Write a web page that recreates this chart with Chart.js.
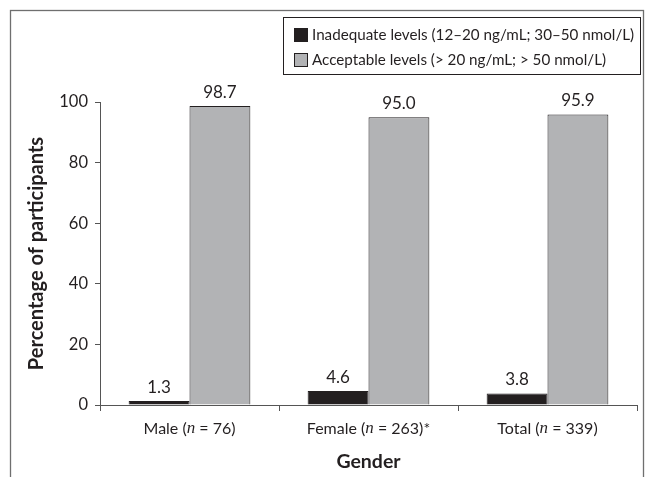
<!DOCTYPE html>
<html>
<head>
<meta charset="utf-8">
<script src="https://cdn.jsdelivr.net/npm/chart.js@4.4.1/dist/chart.umd.min.js"></script>
<style>
  html, body { margin: 0; padding: 0; background: #fff; }
  #wrap { width: 655px; height: 477px; }
</style>
</head>
<body>
<div id="wrap"><canvas id="grafica" width="655" height="477"></canvas></div>
<script>
const categories = ["Male (n = 76)", "Female (n = 263)*", "Total (n = 339)"];
const inadequate = [1.3, 4.6, 3.8];
const acceptable = [98.7, 95.0, 95.9];
const seriesLabels = [
  "Inadequate levels (12–20 ng/mL; 30–50 nmol/L)",
  "Acceptable levels (> 20 ng/mL; > 50 nmol/L)"
];
const yTicks = [0, 20, 40, 60, 80, 100];

const TEXT = "#231f20";
const FONT = "Lato";
Chart.defaults.font.family = FONT;
Chart.defaults.color = TEXT;

// outer frame of the figure
const frame = {
  id: "frame",
  beforeDraw(chart) {
    const ctx = chart.ctx;
    ctx.save();
    ctx.strokeStyle = "#6f6f6f";
    ctx.lineWidth = 1.3;
    ctx.strokeRect(10.5, 10.5, 633, 500);
    ctx.restore();
  }
};

// legend box top right
const boxLegend = {
  id: "boxLegend",
  afterDraw(chart) {
    const ctx = chart.ctx;
    ctx.save();
    ctx.strokeStyle = "#231f20";
    ctx.lineWidth = 1;
    ctx.strokeRect(283.5, 17.5, 357, 57);
    ctx.font = "15.2px " + FONT;
    ctx.textBaseline = "middle";
    chart.data.datasets.forEach((ds, i) => {
      const y = 35 + i * 25;
      ctx.fillStyle = ds.backgroundColor;
      ctx.fillRect(294, y - 7, 13, 14);
      ctx.strokeStyle = "#231f20";
      ctx.strokeRect(294.5, y - 6.5, 13, 13);
      ctx.fillStyle = TEXT;
      ctx.fillText(ds.label, 312, y);
    });
    ctx.restore();
  }
};

// numbers over the bars
const valueLabels = {
  id: "valueLabels",
  afterDatasetsDraw(chart) {
    const ctx = chart.ctx;
    ctx.save();
    ctx.font = "17px " + FONT;
    ctx.fillStyle = TEXT;
    ctx.textAlign = "center";
    ctx.textBaseline = "bottom";
    chart.data.datasets.forEach((ds, i) => {
      chart.getDatasetMeta(i).data.forEach((bar, j) => {
        ctx.fillText(ds.data[j].toFixed(1), bar.x, bar.y - 5);
      });
    });
    ctx.restore();
  }
};

// category labels with italic n
const xLabels = {
  id: "xLabels",
  afterDraw(chart) {
    const ctx = chart.ctx;
    const x = chart.scales.x;
    ctx.save();
    ctx.fillStyle = TEXT;
    ctx.textBaseline = "middle";
    ctx.textAlign = "left";
    chart.data.labels.forEach((lab, i) => {
      const parts = lab.split(/(\bn\b)/);
      const fonts = parts.map(p => p === "n" ? "italic 17px 'Liberation Serif'" : "16px " + FONT);
      let w = 0;
      parts.forEach((p, k) => { ctx.font = fonts[k]; w += ctx.measureText(p).width; });
      let cx = x.getPixelForValue(i) - w / 2;
      parts.forEach((p, k) => {
        ctx.font = fonts[k];
        ctx.fillText(p, cx, 429);
        cx += ctx.measureText(p).width;
      });
    });
    ctx.restore();
  }
};

new Chart(document.getElementById("grafica"), {
  type: "bar",
  data: {
    labels: categories,
    datasets: [
      {
        label: seriesLabels[0],
        data: inadequate,
        backgroundColor: "#231f20",
        borderColor: "#231f20",
        borderWidth: 1,
        categoryPercentage: 0.68,
        barPercentage: 1
      },
      {
        label: seriesLabels[1],
        data: acceptable,
        backgroundColor: "#b2b3b5",
        borderColor: "#231f20",
        borderWidth: 1,
        categoryPercentage: 0.68,
        barPercentage: 1
      }
    ]
  },
  plugins: [frame, boxLegend, valueLabels, xLabels],
  options: {
    responsive: false,
    animation: false,
    layout: { padding: { top: 102, right: 18, left: 0, bottom: 0 } },
    plugins: {
      legend: { display: false },
      tooltip: { enabled: false }
    },
    scales: {
      x: {
        grid: { drawOnChartArea: false, color: "#555", tickLength: 6, offset: true },
        border: { color: "#555", width: 1 },
        ticks: { display: false },
        title: {
          display: true,
          text: "Gender",
          font: { size: 19.5, weight: "bold" },
          color: TEXT,
          padding: { top: 0, bottom: 4 }
        },
        afterFit(scale) { scale.height = 72; }
      },
      y: {
        min: 0,
        max: 100,
        grid: { drawOnChartArea: false, color: "#555", tickLength: 5 },
        border: { color: "#555", width: 1 },
        ticks: { font: { size: 16.5 }, color: TEXT, padding: 7 },
        afterBuildTicks(scale) { scale.ticks = yTicks.map(v => ({ value: v })); },
        title: {
          display: true,
          text: "Percentage of participants",
          font: { size: 20, weight: "bold" },
          color: TEXT,
          padding: { top: 25, bottom: 0 }
        },
        afterFit(scale) { scale.width = 100; }
      }
    }
  }
});
</script>
</body>
</html>
